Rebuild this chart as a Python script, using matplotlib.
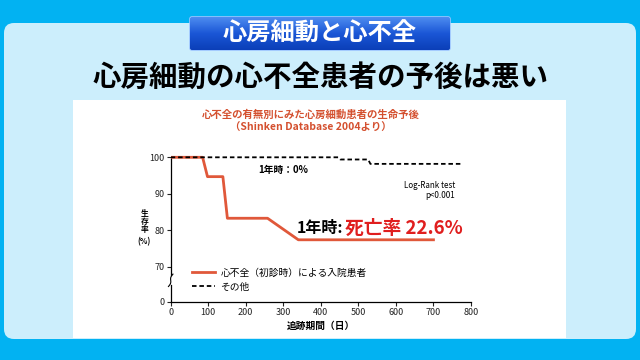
import matplotlib
matplotlib.use("Agg")
import matplotlib.pyplot as plt
import numpy as np
from matplotlib.patches import FancyBboxPatch, Rectangle

plt.rcParams['font.family'] = ['Noto Sans CJK JP', 'DejaVu Sans']

# ---- data ----
hf_days = [0, 85, 98, 139, 151, 258, 340, 700]
hf_surv = [100, 100, 94.7, 94.7, 83.3, 83.3, 77.4, 77.4]
other_days = [0, 446, 452, 526, 532, 776]
other_surv = [100, 100, 99.4, 99.4, 98.2, 98.2]
xticks = [0, 100, 200, 300, 400, 500, 600, 700, 800]
yticks = [100, 90, 80, 70]
hf_label = "心不全（初診時）による入院患者"
other_label = "その他"

W, H = 640, 360
fig = plt.figure(figsize=(6.4, 3.6), dpi=100)

# ---- background (pixel coordinates) ----
bg = fig.add_axes([0, 0, 1, 1], zorder=0)
bg.set_xlim(0, W)
bg.set_ylim(H, 0)
bg.axis('off')
bg.add_patch(Rectangle((0, 0), W, H, facecolor='#02B2F2', edgecolor='none'))
bg.add_patch(FancyBboxPatch((4, 23), W - 8, 316, boxstyle="round,pad=0,rounding_size=10",
                            facecolor='#CCEEFC', edgecolor='none'))
bg.add_patch(Rectangle((73, 100), 493, 238, facecolor='white', edgecolor='none'))

# banner
grad = np.linspace(0, 1, 64).reshape(-1, 1)
banner = FancyBboxPatch((190, 17), 260, 33, boxstyle="round,pad=0,rounding_size=2",
                        facecolor='none', edgecolor='#9cc4ff', linewidth=1.2)
bg.add_patch(banner)
im = bg.imshow(grad, extent=(190, 450, 50, 17), cmap=matplotlib.colors.LinearSegmentedColormap.from_list(
    'b', ['#4d8cf0', '#1a56d6', '#0b3fb8']), aspect='auto', zorder=1)
im.set_clip_path(banner)
bg.text(320, 33.5, "心房細動と心不全", color='white', fontsize=17.5, fontweight='bold',
        ha='center', va='center', zorder=3)
bg.text(321, 78, "心房細動の心不全患者の予後は悪い", color='black', fontsize=20.5, fontweight='bold',
        ha='center', va='center')

# chart titles
red_title = '#D4502F'
bg.text(311, 115, "心不全の有無別にみた心房細動患者の生命予後", color=red_title, fontsize=7.5,
        fontweight='bold', ha='center', va='center')
bg.text(311, 128, "（Shinken Database 2004より）", color=red_title, fontsize=7.5,
        fontweight='bold', ha='center', va='center')

# ---- chart axes ----
x0px, x1px = 170.7, 471.0
ybot, ytop = 60.4, 101.0
ppu = 3.65
top_px = 157.3 - (ytop - 100) * ppu
bot_px = 157.3 + (100 - ybot) * ppu
ax = fig.add_axes([x0px / W, 1 - bot_px / H, (x1px - x0px) / W, (bot_px - top_px) / H], zorder=2)
ax.patch.set_alpha(0)
ax.set_xlim(0, 800)
ax.set_ylim(ybot, ytop)

ax.plot(hf_days, hf_surv, color='#E0583A', linewidth=2.0, label=hf_label, zorder=3)
ax.plot(other_days, other_surv, color='black', linewidth=1.3, linestyle=(0, (2.5, 1.6)),
        label=other_label, zorder=4)

for s in ['top', 'right', 'left']:
    ax.spines[s].set_visible(False)
ax.spines['bottom'].set_linewidth(0.9)
ax.set_xticks(xticks)
ax.set_xticklabels([str(t) for t in xticks])
ax.set_yticks(yticks + [ybot])
ax.set_yticklabels([str(t) for t in yticks] + ['0'])
ax.tick_params(axis='both', labelsize=6.5, length=3, width=0.8, pad=1.5, colors='#222222')

# broken left spine with a small slanted squiggle
brk_lo, brk_hi = 64.9, 67.7
ax.plot([0, 0], [ybot, brk_lo], color='black', linewidth=0.9, clip_on=False)
ax.plot([0, 0], [brk_hi, 100.0], color='black', linewidth=0.9, clip_on=False)
t = np.linspace(0, 1, 30)
ax.plot(-6 + 12 * t + 2.5 * np.sin(t * np.pi * 2), brk_lo - 0.3 + (brk_hi - brk_lo + 0.6) * t,
        color='black', linewidth=0.8, clip_on=False)

ax.set_xlabel("追跡期間（日）", fontsize=7, fontweight='bold', labelpad=3)
for ch, yy in zip(["生", "存", "率", "(%)"], [84.7, 82.4, 80.1, 77.0]):
    ax.text(-70, yy, ch, fontsize=5.6, ha='center', va='center', fontweight='bold')

ax.text(300, 96.4, "1年時：0%", fontsize=7, fontweight='bold', ha='center', va='center')
ax.text(758, 92.2, "Log-Rank test", fontsize=5.8, ha='right', va='center')
ax.text(758, 89.5, "p<0.001", fontsize=5.8, ha='right', va='center')
ax.text(336, 80.6, "1年時:", fontsize=11.5, fontweight='bold', ha='left', va='center')
ax.text(464, 80.6, "死亡率 22.6%", fontsize=13.5, fontweight='bold', color='#E01E1E',
        ha='left', va='center')

ax.legend(loc='upper left', bbox_to_anchor=(0.055, 0.265), frameon=False, fontsize=7,
          handlelength=2.4, handletextpad=0.5, labelspacing=0.45, borderpad=0)

fig.savefig('out.png', dpi=100)
